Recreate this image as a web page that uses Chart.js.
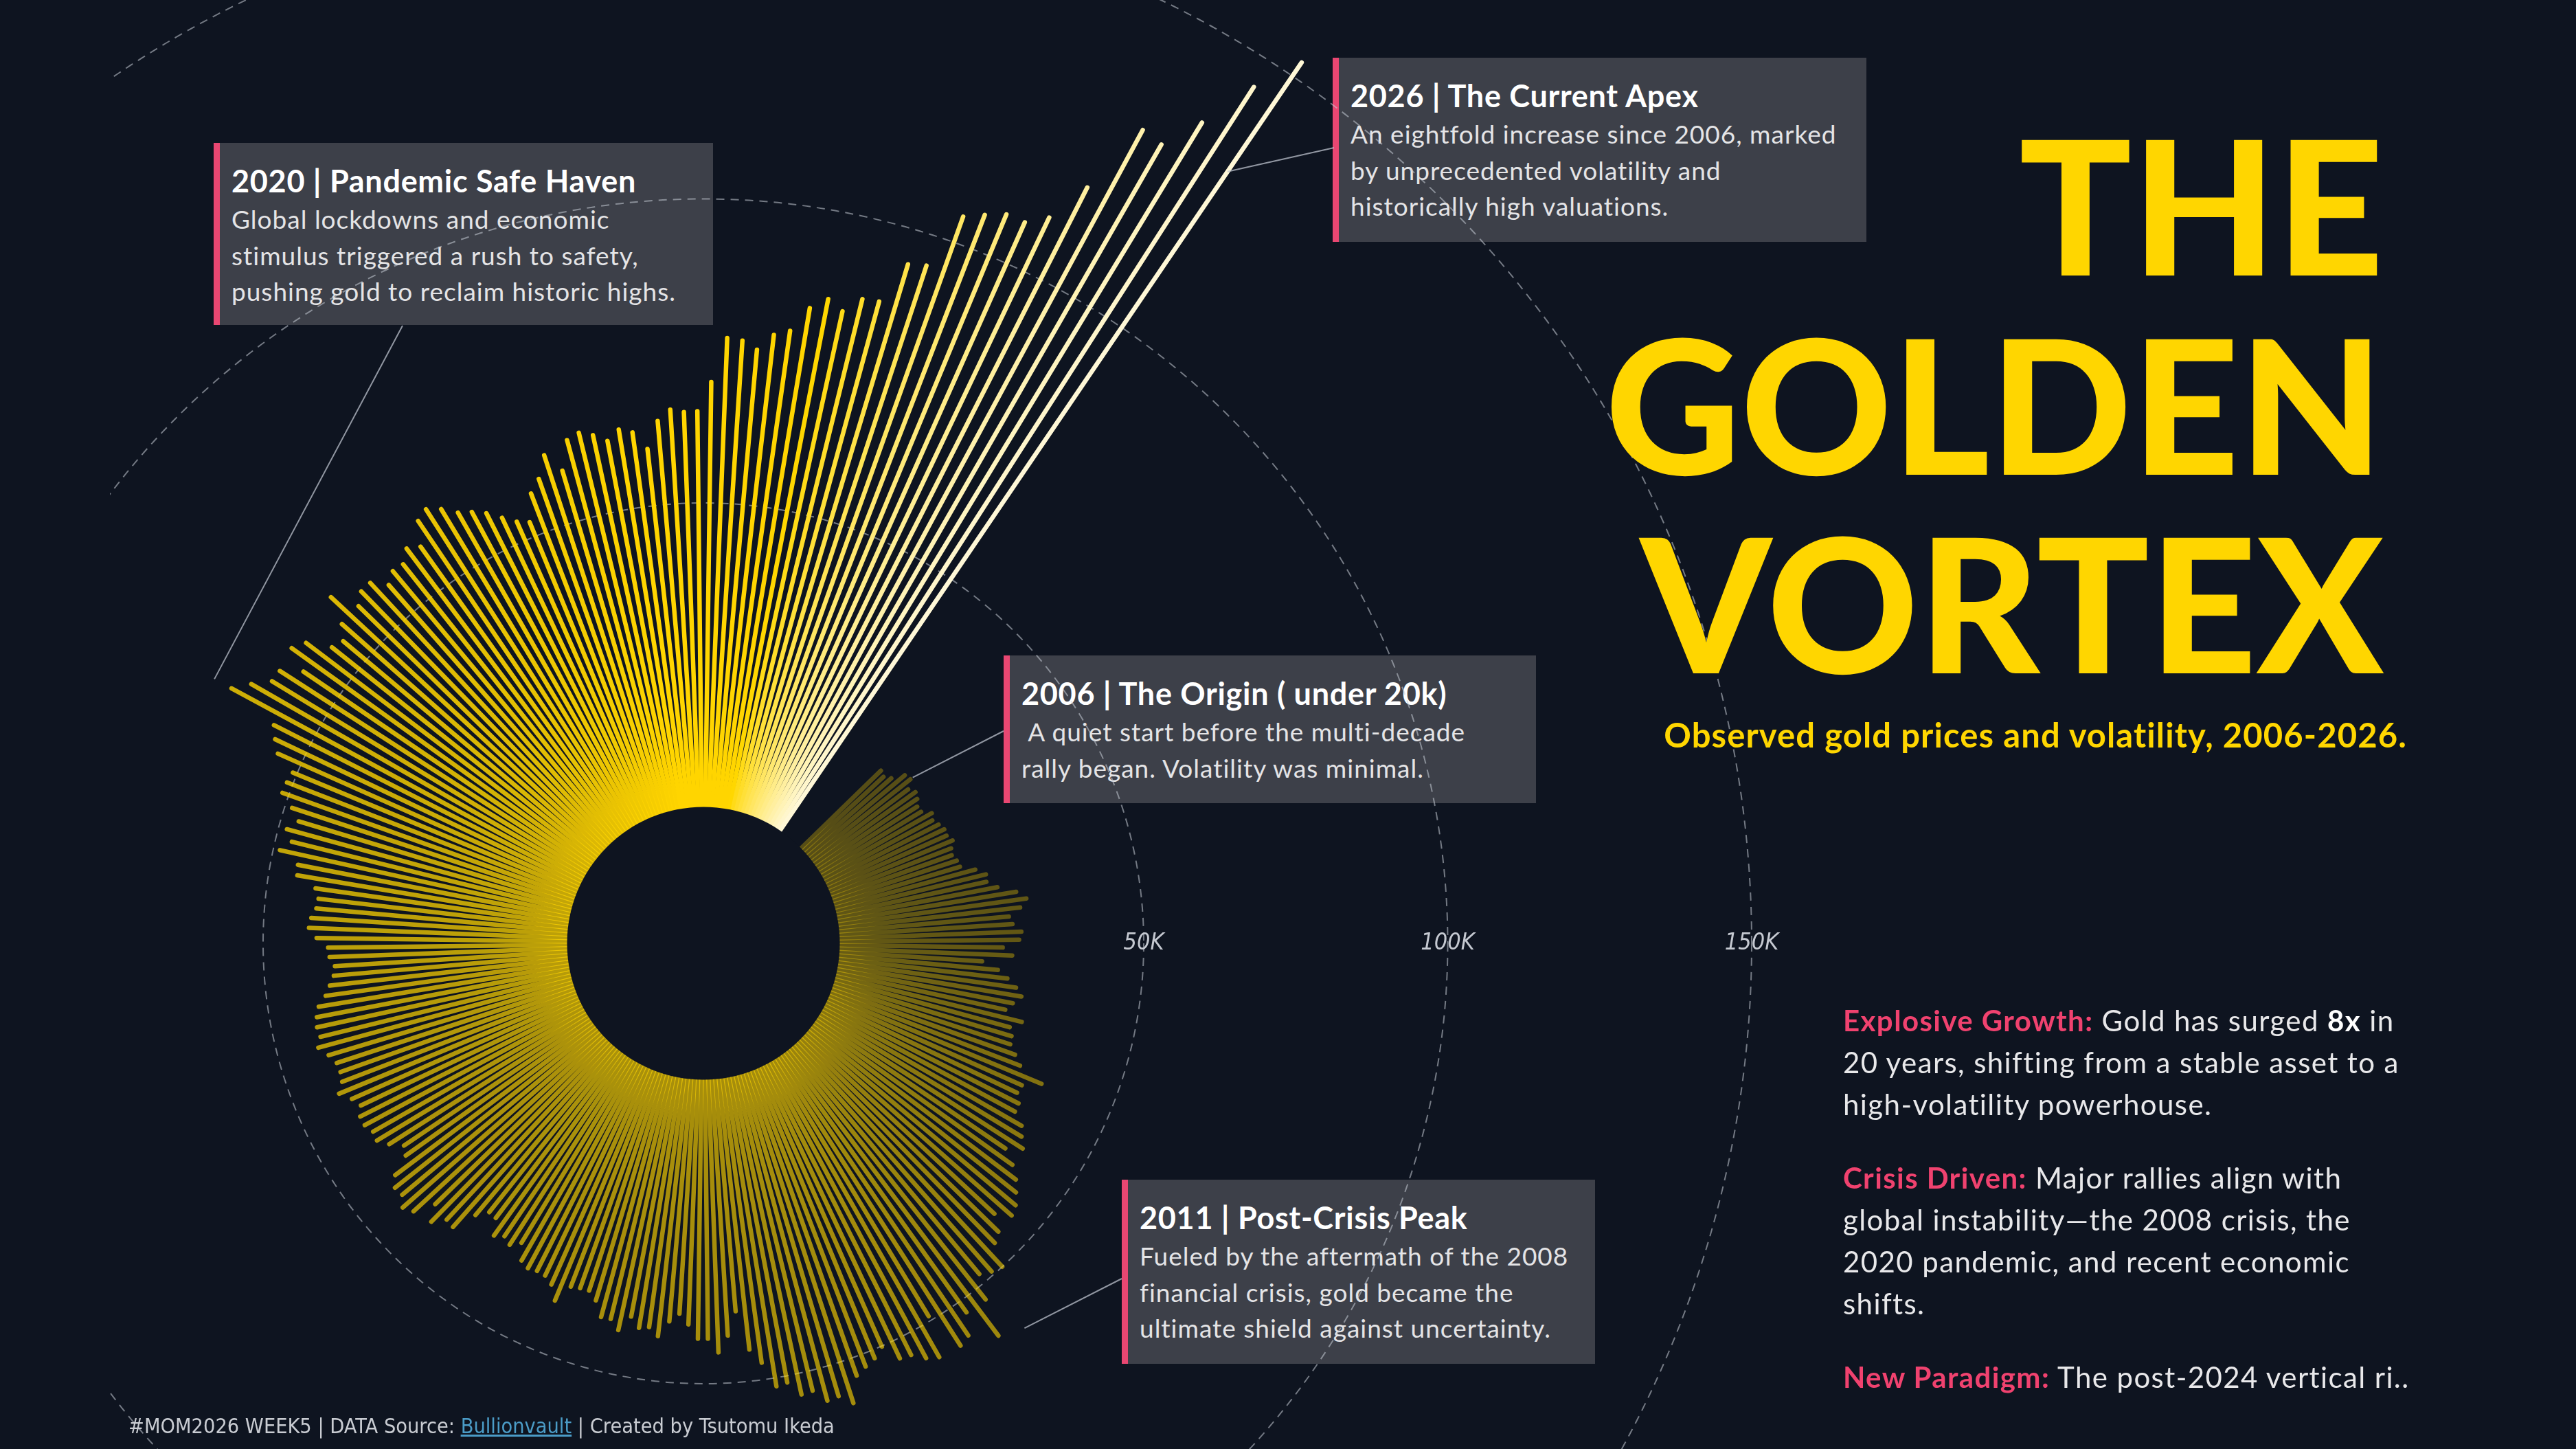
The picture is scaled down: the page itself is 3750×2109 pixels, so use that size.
<!DOCTYPE html>
<html lang="en">
<head>
  <meta charset="UTF-8" />
  <title>The Golden Vortex</title>
  <script src="https://cdn.jsdelivr.net/npm/chart.js@4.4.1/dist/chart.umd.min.js"></script>
  <style>
    html, body { margin: 0; padding: 0; }
    body {
      width: 3750px; height: 2109px;
      position: relative; overflow: hidden;
      background: #0e1420;
      font-family: Lato, "Noto Sans", sans-serif;
      color: #e6e6e6;
    }
    #chart-clip {
      position: absolute; left: 160px; top: 0;
      width: 3590px; height: 2109px;
      overflow: hidden; z-index: 2;
    }
    #chart-container {
      position: absolute; left: -936px; top: -427px;
      width: 3600px; height: 3600px;
    }
    .note {
      position: absolute; z-index: 1;
      box-sizing: border-box;
      background: #3d4049;
      border-left: 9px solid #e94772;
      padding: 25px 10px 0 17px;
      white-space: nowrap;
    }
    .note h3 {
      margin: 0; font-weight: 700; font-size: 45px; letter-spacing: 0.7px;
      line-height: 60px; color: #fff;
    }
    .note p {
      margin: 0; font-size: 37px; letter-spacing: 1px;
      line-height: 52.6px; color: #e4e4e6;
    }
    .title {
      position: absolute; z-index: 3; right: 280px;
      font-weight: 900; font-size: 272px; line-height: 272px;
      color: #ffd600; white-space: nowrap;
    }
    .subtitle {
      position: absolute; z-index: 3; right: 246px; top: 1040px;
      font-weight: 700; font-size: 49px; letter-spacing: 1.1px; line-height: 58px;
      color: #ffd600; white-space: nowrap;
    }
    .insights {
      position: absolute; z-index: 3; left: 2683px; top: 1455px;
      font-size: 42px; letter-spacing: 1.4px; line-height: 61px;
      color: #e8e8ea; white-space: nowrap;
    }
    .insights p { margin: 0 0 46px 0; }
    .insights b.k { color: #f0426f; }
    .insights b.w { color: #fff; }
    .footer {
      position: absolute; z-index: 3; left: 187px; top: 2058px;
      font-family: "Liberation Sans Narrow", "DejaVu Sans Condensed", sans-serif;
      font-size: 30.4px; line-height: 36px; color: #c9ccd2; white-space: nowrap;
    }
    .footer a { color: #4b9cc7; text-decoration: underline; }
  </style>
</head>
<body>

  <div class="note" style="left:311px; top:208px; width:727px; height:265px;">
    <h3>2020 | Pandemic Safe Haven</h3>
    <p>Global lockdowns and economic<br>stimulus triggered a rush to safety,<br>pushing gold to reclaim historic highs.</p>
  </div>
  <div class="note" style="left:1940px; top:84px; width:777px; height:268px;">
    <h3>2026 | The Current Apex</h3>
    <p>An eightfold increase since 2006, marked<br>by unprecedented volatility and<br>historically high valuations.</p>
  </div>
  <div class="note" style="left:1461px; top:954px; width:775px; height:215px;">
    <h3>2006 | The Origin ( under 20k)</h3>
    <p>&nbsp;A quiet start before the multi-decade<br>rally began. Volatility was minimal.</p>
  </div>
  <div class="note" style="left:1633px; top:1717px; width:689px; height:268px;">
    <h3>2011 | Post-Crisis Peak</h3>
    <p>Fueled by the aftermath of the 2008<br>financial crisis, gold became the<br>ultimate shield against uncertainty.</p>
  </div>

  <div id="chart-clip">
    <div id="chart-container">
      <canvas id="vortexChart"></canvas>
    </div>
  </div>

  <div class="title" style="top:160px;">THE</div>
  <div class="title" style="top:450px;">GOLDEN</div>
  <div class="title" style="top:739px;">VORTEX</div>
  <div class="subtitle">Observed gold prices and volatility, 2006-2026.</div>

  <div class="insights">
    <p><b class="k">Explosive Growth:</b> Gold has surged <b class="w">8x</b> in<br>20 years, shifting from a stable asset to a<br>high-volatility powerhouse.</p>
    <p><b class="k">Crisis Driven:</b> Major rallies align with<br>global instability—the 2008 crisis, the<br>2020 pandemic, and recent economic<br>shifts.</p>
    <p><b class="k">New Paradigm:</b> The post-2024 vertical ri..</p>
  </div>

  <div class="footer">#MOM2026 WEEK5 | DATA Source: <a>Bullionvault</a> | Created by Tsutomu Ikeda</div>

  <script>
    // gold price, thousand USD per kg, one value per month (Jan..Dec)
    const price2006 = [18.3, 17.9, 18.7, 20.7, 21.0, 19.7, 20.4, 20.0, 19.3, 19.4, 20.8, 20.3];
    const price2007 = [20.9, 21.4, 21.3, 21.9, 21.2, 20.9, 21.4, 21.6, 23.9, 25.4, 25.2, 26.8];
    const price2008 = [29.7, 31.2, 30.0, 28.0, 28.5, 29.9, 29.5, 26.8, 28.4, 23.5, 26.2, 27.9];
    const price2009 = [29.5, 30.6, 29.4, 28.4, 31.5, 29.8, 30.5, 30.7, 32.0, 33.4, 37.8, 34.9];
    const price2010 = [34.7, 35.7, 35.8, 37.9, 38.8, 40.0, 37.6, 40.1, 42.0, 43.3, 44.6, 45.2];
    const price2011 = [42.9, 45.4, 46.3, 50.0, 49.4, 48.4, 52.3, 58.3, 52.1, 55.4, 56.1, 49.2];
    const price2012 = [55.9, 55.0, 53.4, 53.1, 50.1, 51.4, 52.1, 53.0, 57.1, 55.3, 55.5, 53.3];
    const price2013 = [53.5, 51.1, 51.4, 47.2, 44.8, 38.3, 42.2, 44.9, 42.6, 42.6, 40.3, 38.6];
    const price2014 = [40.0, 42.6, 41.3, 41.7, 40.1, 42.7, 41.2, 41.3, 38.9, 37.7, 37.8, 38.1];
    const price2015 = [41.2, 39.0, 38.1, 38.0, 38.3, 37.7, 35.2, 36.5, 35.8, 36.7, 34.2, 34.1];
    const price2016 = [35.9, 39.8, 39.6, 41.6, 39.1, 42.5, 43.4, 42.1, 42.3, 41.0, 37.7, 37.0];
    const price2017 = [38.9, 40.3, 40.1, 40.8, 40.8, 39.9, 40.8, 42.4, 41.2, 40.9, 41.0, 41.9];
    const price2018 = [43.2, 42.4, 42.6, 42.3, 41.7, 40.3, 39.4, 38.6, 38.3, 39.1, 39.3, 41.2];
    const price2019 = [42.5, 42.2, 41.5, 41.3, 42.0, 45.3, 45.5, 48.9, 47.3, 48.6, 47.1, 48.8];
    const price2020 = [51.1, 51.0, 50.7, 54.2, 55.6, 56.8, 65.8, 63.3, 60.6, 60.4, 57.1, 60.9];
    const price2021 = [59.5, 55.7, 54.9, 56.9, 61.2, 56.9, 58.3, 58.3, 56.0, 57.3, 57.1, 58.8];
    const price2022 = [57.7, 61.4, 62.3, 61.0, 59.1, 58.1, 56.8, 55.0, 53.4, 52.5, 56.8, 58.6];
    const price2023 = [62.0, 58.7, 63.3, 64.0, 63.1, 61.7, 63.2, 62.4, 59.4, 63.8, 65.5, 65.0];
    const price2024 = [65.1, 69.9, 77.2, 76.9, 75.6, 78.3, 79.3, 83.5, 85.5, 84.0, 86.7, 87.0];
    const price2025 = [94.2, 94.9, 104.5, 106.0, 107.4, 107.4, 109.8, 117.0, 129.6, 129.0, 135.5, 145.0];
    const price2026 = [152.7];

    const years = [2006, 2007, 2008, 2009, 2010, 2011, 2012, 2013, 2014, 2015, 2016,
                   2017, 2018, 2019, 2020, 2021, 2022, 2023, 2024, 2025, 2026];
    const ringTicks = [50, 100, 150];
    const ringLabels = ['50K', '100K', '150K'];
    const emptySlots = 7; // blank wedge between Jan 2026 and Jan 2006

    const goldK = [].concat(price2006, price2007, price2008, price2009, price2010, price2011,
      price2012, price2013, price2014, price2015, price2016, price2017, price2018, price2019,
      price2020, price2021, price2022, price2023, price2024, price2025, price2026);

    const labels = [];
    years.forEach(y => { for (let m = 1; m <= 12; m++) labels.push(`${y}-${String(m).padStart(2, '0')}`); });
    labels.length = goldK.length;
    for (let i = 0; i < emptySlots; i++) { labels.push(''); goldK.push(null); }

    const BG = '#0e1420';

    // annotation leader lines: box edge on the page -> point on a bar
    const leaders = [
      { page: [586, 474],   bar: 174, value: 69 },
      { page: [1942, 215],  bar: 240, value: 131 },
      { page: [1461, 1064], bar: 4,   value: 21.5 },
      { page: [1633, 1861], bar: 65,  value: 60 }
    ];

    const alphaStops = [[0, 0.30], [30, 0.35], [48, 0.5], [72, 0.62], [132, 0.66], [168, 0.76], [192, 0.9], [210, 1]];
    function barColor(i) {
      let a = 1;
      for (let k = 0; k < alphaStops.length - 1; k++) {
        const [i0, a0] = alphaStops[k], [i1, a1] = alphaStops[k + 1];
        if (i >= i0 && i <= i1) { a = a0 + (a1 - a0) * (i - i0) / (i1 - i0); break; }
      }
      if (i < 224) return `rgba(255, 213, 0, ${a.toFixed(3)})`;
      const f = Math.pow((i - 224) / 16, 0.8);
      const g = Math.round(215 + (248 - 215) * f);
      const b = Math.round(0 + (215 - 0) * f);
      return `rgb(255, ${g}, ${b})`;
    }

    const vortexPlugin = {
      id: 'vortex',
      afterDatasetsDraw(chart) {
        const r = chart.scales.r;
        const ctx = chart.ctx;
        const meta = chart.getDatasetMeta(0);
        ctx.save();

        ctx.lineCap = 'round';
        ctx.lineWidth = 6.5;
        meta.data.forEach((pt, i) => {
          if (goldK[i] == null) return;
          const base = r.getPointPositionForValue(i, 0);
          ctx.strokeStyle = barColor(i);
          ctx.beginPath();
          ctx.moveTo(base.x, base.y);
          ctx.lineTo(pt.x, pt.y);
          ctx.stroke();
        });

        // dark core
        ctx.fillStyle = BG;
        ctx.beginPath();
        ctx.arc(r.xCenter, r.yCenter, r.getDistanceFromCenterForValue(0), 0, Math.PI * 2);
        ctx.fill();

        // ring labels along the horizontal axis
        ctx.font = 'italic 34px "Liberation Sans Narrow", "DejaVu Sans Condensed", sans-serif';
        ctx.fillStyle = '#c5c9d1';
        ctx.textAlign = 'center';
        ctx.textBaseline = 'middle';
        ringTicks.forEach((v, k) => {
          ctx.fillText(ringLabels[k], r.xCenter + r.getDistanceFromCenterForValue(v), r.yCenter);
        });

        // leader lines
        const rect = chart.canvas.getBoundingClientRect();
        ctx.strokeStyle = 'rgba(190, 195, 205, 0.75)';
        ctx.lineWidth = 2;
        ctx.lineCap = 'butt';
        leaders.forEach(l => {
          const p = r.getPointPositionForValue(l.bar, l.value);
          ctx.beginPath();
          ctx.moveTo(l.page[0] - rect.left, l.page[1] - rect.top);
          ctx.lineTo(p.x, p.y);
          ctx.stroke();
        });
        ctx.restore();
      }
    };

    function drawChart() {
      const ctx = document.getElementById('vortexChart').getContext('2d');
      new Chart(ctx, {
        type: 'radar',
        data: {
          labels: labels,
          datasets: [{
            data: goldK,
            showLine: false,
            pointRadius: 0,
            pointHoverRadius: 0,
            borderWidth: 0,
            fill: false
          }]
        },
        options: {
          responsive: true,
          maintainAspectRatio: false,
          animation: false,
          events: [],
          layout: { padding: 0 },
          plugins: { legend: { display: false }, tooltip: { enabled: false } },
          scales: {
            r: {
              min: -22.43,
              max: 180.96,
              startAngle: 45.8,
              afterBuildTicks: s => { s.ticks = ringTicks.map(v => ({ value: v })); },
              ticks: { display: false },
              pointLabels: { display: false },
              angleLines: { display: false },
              grid: { circular: true, color: 'rgba(200, 205, 215, 0.55)', lineWidth: 2 },
              border: { dash: [12, 9] }
            }
          }
        },
        plugins: [vortexPlugin]
      });
    }

    window.addEventListener('DOMContentLoaded', drawChart);
  </script>

</body>
</html>
